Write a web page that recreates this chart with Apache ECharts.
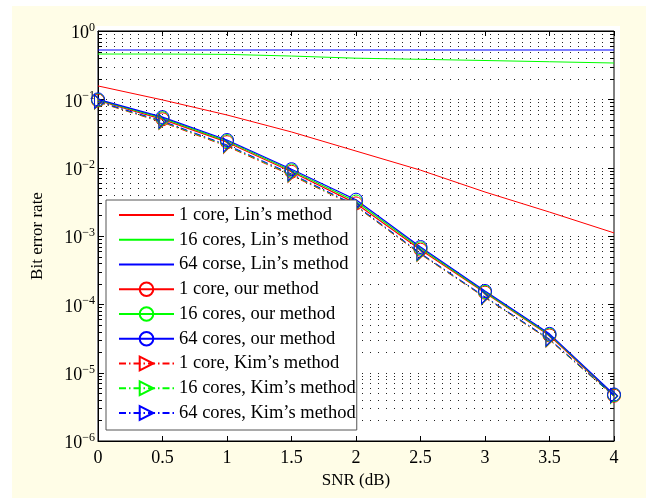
<!DOCTYPE html>
<html>
<head>
<meta charset="utf-8">
<script src="https://cdn.jsdelivr.net/npm/echarts@6/dist/echarts.min.js"></script>
<style>html,body{margin:0;padding:0;background:#fff}#c{width:646px;height:502px}</style>
</head>
<body>
<div id="c"></div>
<script>
// ---- data ----
var snr = [0, 0.5, 1, 1.5, 2, 2.5, 3, 3.5, 4];
var lin1  = [0.157, 0.098, 0.059, 0.0333, 0.0175, 0.0092, 0.0044, 0.00224, 0.00111];
var lin16 = [0.46, 0.46, 0.455, 0.43, 0.40, 0.385, 0.37, 0.355, 0.34];
var lin64 = [0.527, 0.527, 0.527, 0.527, 0.527, 0.527, 0.527, 0.527, 0.527];
var our1  = [0.096, 0.051, 0.0236, 0.0087, 0.0030, 0.00063, 0.000148, 0.000035, 0.0000046];
var our16 = [0.098, 0.053, 0.0245, 0.0091, 0.0032, 0.00066, 0.000152, 0.000036, 0.0000047];
var our64 = [0.100, 0.055, 0.0254, 0.0095, 0.0034, 0.00069, 0.000157, 0.000037, 0.0000048];
var kim1  = [0.091, 0.046, 0.0205, 0.0077, 0.0027, 0.00054, 0.000125, 0.000030, 0.0000045];
var kim16 = [0.092, 0.047, 0.0210, 0.0079, 0.00275, 0.00055, 0.000127, 0.0000305, 0.0000045];
var kim64 = [0.093, 0.048, 0.0215, 0.0081, 0.0028, 0.00056, 0.000129, 0.000031, 0.0000046];
var seriesNames = [
  '1 core, Lin\u2019s method', '16 cores, Lin\u2019s method', '64 corse, Lin\u2019s method',
  '1 core, our method', '16 cores, our method', '64 cores, our method',
  '1 core, Kim\u2019s method', '16 cores, Kim\u2019s method', '64 cores, Kim\u2019s method'
];
var xTicks = [0, 0.5, 1, 1.5, 2, 2.5, 3, 3.5, 4];
var yDecades = [-6, -5, -4, -3, -2, -1, 0];
var yMinorMult = [2, 3, 4, 5, 6, 7, 8, 9];

// ---- build ----
var RED = '#ff0000', GREEN = '#00ff00', BLUE = '#0000ff';
var FONT = '"Liberation Serif","Times New Roman",serif';
function pairs(ys) { return snr.map(function (x, i) { return [x, ys[i]]; }); }

var gridVals = [];
yDecades.forEach(function (d) {
  gridVals.push([0, Math.pow(10, d), 1]);
  if (d < 0) yMinorMult.forEach(function (m) { gridVals.push([0, m * Math.pow(10, d), 0]); });
});

var tri = 'path://M0,0L10,7L0,14Z';
function lineSeries(name, ys, color, kind) {
  var s = {
    name: name, type: 'line', data: pairs(ys), z: 3,
    lineStyle: { color: color, width: 1 },
    itemStyle: { color: 'rgba(0,0,0,0)', borderColor: color, borderWidth: 1 },
    emphasis: { disabled: true }, animation: false
  };
  if (kind === 'lin') {
    s.symbol = 'circle'; s.showSymbol = false; s.symbolSize = 1;
    s.itemStyle = { color: 'rgba(0,0,0,0)', borderColor: 'rgba(0,0,0,0)', borderWidth: 0 };
  }
  else if (kind === 'our') { s.symbol = 'circle'; s.symbolSize = 13; s.lineStyle.width = 1.2; }
  else { s.symbol = tri; s.symbolSize = [10, 14]; s.symbolKeepAspect = true; s.lineStyle.type = [7, 3, 1.5, 3]; }
  return s;
}

var series = [
  lineSeries(seriesNames[0], lin1, RED, 'lin'),
  lineSeries(seriesNames[1], lin16, GREEN, 'lin'),
  lineSeries(seriesNames[2], lin64, BLUE, 'lin'),
  lineSeries(seriesNames[3], our1, RED, 'our'),
  lineSeries(seriesNames[4], our16, GREEN, 'our'),
  lineSeries(seriesNames[5], our64, BLUE, 'our'),
  lineSeries(seriesNames[6], kim1, RED, 'kim'),
  lineSeries(seriesNames[7], kim16, GREEN, 'kim'),
  lineSeries(seriesNames[8], kim64, BLUE, 'kim')
];

series.unshift({
  name: 'ygrid', type: 'custom', z: 1, silent: true, animation: false,
  data: gridVals, encode: { x: 0, y: 1 },
  renderItem: function (params, api) {
    var v = api.value(1), major = api.value(2) === 1;
    var a = api.coord([0, v]), b = api.coord([4, v]);
    var y = Math.round(a[1]) + 0.5;
    var len = major ? 6 : 4;
    var ch = [];
    if (v > 1.01e-6 && v < 0.99) {
      ch.push({ type: 'line', shape: { x1: a[0], y1: y, x2: b[0], y2: y },
        style: { stroke: '#222', lineWidth: 1, lineDash: [1, 7] } });
    }
    ch.push({ type: 'line', shape: { x1: a[0], y1: y, x2: a[0] + len, y2: y }, style: { stroke: '#000', lineWidth: 1 } });
    ch.push({ type: 'line', shape: { x1: b[0] - len, y1: y, x2: b[0], y2: y }, style: { stroke: '#000', lineWidth: 1 } });
    return { type: 'group', children: ch };
  }
});

var chart = echarts.init(document.getElementById('c'), null, { renderer: 'canvas' });
chart.setOption({
  backgroundColor: '#fffde7',
  animation: false,
  graphic: [
    { type: 'rect', left: 0, top: 0, shape: { width: 646, height: 6 }, style: { fill: '#fff' }, z: -10 },
    { type: 'rect', left: 0, top: 0, shape: { width: 12, height: 502 }, style: { fill: '#fff' }, z: -10 },
    { type: 'rect', left: 0, top: 498, shape: { width: 646, height: 4 }, style: { fill: '#fff' }, z: -10 },
    { type: 'rect', left: 96, top: 26, shape: { width: 524, height: 415 }, style: { fill: '#fff' }, z: -10 }
  ],
  grid: { left: 98, right: 32, top: 31, bottom: 61, show: true, borderColor: '#000', borderWidth: 1, backgroundColor: '#fff' },
  legend: {
    data: seriesNames, orient: 'vertical', left: 106, top: 200,
    itemWidth: 55, itemHeight: 17, itemGap: 5.75,
    padding: [5.5, 1, 7.5, 12],
    backgroundColor: '#fff', borderColor: '#555', borderWidth: 1,
    textStyle: { fontFamily: FONT, fontSize: 18.5, color: '#000' },
    selectedMode: false
  },
  xAxis: [{
    type: 'value', min: 0, max: 4, interval: 0.5,
    name: 'SNR (dB)', nameLocation: 'middle', nameGap: 25,
    nameTextStyle: { fontFamily: FONT, fontSize: 17, color: '#000' },
    axisLine: { show: true, lineStyle: { color: '#000', width: 1 } },
    axisTick: { show: true, inside: true, length: 5, lineStyle: { color: '#000' } },
    axisLabel: { fontFamily: FONT, fontSize: 18, color: '#000', margin: 8,
      formatter: function (v) { return String(v); } },
    splitLine: { show: false }
  }, {
    type: 'value', min: 0, max: 4, interval: 0.5, position: 'top',
    axisLine: { show: true, lineStyle: { color: '#000', width: 1 } },
    axisTick: { show: true, inside: true, length: 5, lineStyle: { color: '#000' } },
    axisLabel: { show: false }, splitLine: { show: false }
  }],
  yAxis: {
    type: 'log', logBase: 10, min: 1e-6, max: 1, splitNumber: 6,
    name: 'Bit error rate', nameLocation: 'middle', nameGap: 52,
    nameTextStyle: { fontFamily: FONT, fontSize: 17, color: '#000' },
    axisLine: { show: true, lineStyle: { color: '#000', width: 1 } },
    axisTick: { show: false },
    minorTick: { show: false },
    splitLine: { show: false },
    axisLabel: {
      margin: 3, color: '#000',
      formatter: function (v) {
        var e = Math.round(Math.log10(v));
        return '{b|10}{s|' + (e < 0 ? '\u2212' + (-e) : String(e)) + '}';
      },
      rich: {
        b: { fontFamily: FONT, fontSize: 18, color: '#000', lineHeight: 18, padding: [5, 0, 0, 0] },
        s: { fontFamily: FONT, fontSize: 12, color: '#000', lineHeight: 12, verticalAlign: 'top' }
      }
    }
  },
  series: series
});
</script>
</body>
</html>
